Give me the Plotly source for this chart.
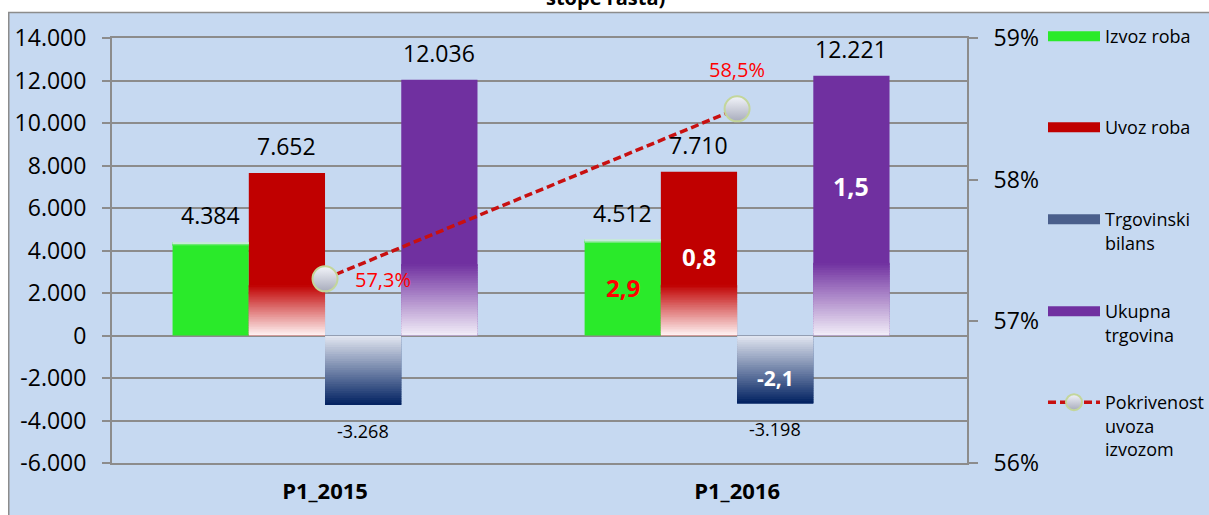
import plotly.graph_objects as go

# ---------------- data ----------------
categories = ["P1_2015", "P1_2016"]
izvoz = [4384, 4512]
uvoz = [7652, 7710]
bilans = [-3268, -3198]
ukupna = [12036, 12221]
pokrivenost = [0.573, 0.585]
rast_2016 = [2.9, 0.8, -2.1, 1.5]          # growth rates shown inside the 2016 bars
series_names = ["Izvoz roba", "Uvoz roba", "Trgovinski<br>bilans", "Ukupna<br>trgovina"]
line_name = "Pokrivenost<br>uvoza<br>izvozom"
y_ticks = [-6000, -4000, -2000, 0, 2000, 4000, 6000, 8000, 10000, 12000, 14000]
y2_ticks = [0.56, 0.57, 0.58, 0.59]
title_fragment = "stope rasta)"

# ---------------- style ----------------
W, H = 1209, 515
L, R, T, B = 112, 967, 38, 463
BG = "#C6D9F1"
GRID = "#8C8C8C"
FONT = "Open Sans"
GREEN, RED, NAVY, PURPLE = "#2AEA2A", "#C00000", "#002060", "#7030A0"
BW = 0.185            # bar width (category spacing = 1)


def px(xw):            # window pixel -> paper x
    return (xw - L) / (R - L)


def py(yw):            # window pixel -> paper y
    return (B - yw) / (B - T)


def fmt_int(v):
    return f"{v:,}".replace(",", ".")


def fmt_pct(v):
    return f"{v * 100:.1f}%".replace(".", ",")


def mix(c1, c2, t):
    a = [int(c1[i:i + 2], 16) for i in (1, 3, 5)]
    b = [int(c2[i:i + 2], 16) for i in (1, 3, 5)]
    return "#" + "".join(f"{round(a[i] + (b[i] - a[i]) * t):02x}" for i in range(3))


xs = list(range(len(categories)))
series_vals = [izvoz, uvoz, bilans, ukupna]
colors = [GREEN, RED, NAVY, PURPLE]
legend_colors = [GREEN, RED, "#4A5F8C", PURPLE]
offsets = [-2 * BW + k * BW for k in range(4)]

fig = go.Figure()

# main solid bars
for k, vals in enumerate(series_vals):
    fig.add_trace(go.Bar(
        x=xs, y=vals, offset=offsets[k], width=BW,
        marker=dict(color=colors[k], line=dict(width=0)),
        name=series_names[k], legend="legend" if k == 0 else f"legend{k + 1}",
        hoverinfo="skip", showlegend=False,
    ))


def gradient(k, frac_lo, frac_hi, c_lo, c_hi, n=30):
    """overlay gradient strips between frac_lo and frac_hi of each bar of series k"""
    bx, bb, bh, bc = [], [], [], []
    for i, v in enumerate(series_vals[k]):
        lo, hi = v * frac_lo, v * frac_hi
        step = (hi - lo) / n
        for j in range(n):
            bx.append(xs[i])
            bb.append(lo + j * step)
            bh.append(step * (1.0 if j == n - 1 else 1.7))   # overlap to hide seams
            bc.append(mix(c_lo, c_hi, (j + 0.5) / n))
    fig.add_trace(go.Bar(
        x=bx, y=bh, base=bb, offset=offsets[k], width=BW,
        marker=dict(color=bc, line=dict(width=0)),
        showlegend=False, hoverinfo="skip",
    ))


gradient(1, 0.0, 0.31, "#FFF4F4", RED)          # import: white bottom -> red
gradient(2, 0.0, 1.0, "#E4E8F2", NAVY)          # balance: light top -> navy bottom
gradient(3, 0.0, 0.28, "#F2EEF8", PURPLE)       # total: white bottom -> purple
gradient(0, 0.965, 1.0, GREEN, "#DCE8F2", n=4)  # thin pale cap on exports

# legend-only entries for the bars (wide swatches)
for k in range(4):
    fig.add_trace(go.Scatter(
        x=[None], y=[None], mode="lines", name=series_names[k],
        legend="legend" if k == 0 else f"legend{k + 1}",
        line=dict(color=legend_colors[k], width=12),
        hoverinfo="skip",
    ))

# coverage line
fig.add_trace(go.Scatter(
    x=xs, y=pokrivenost, yaxis="y2", mode="lines+markers",
    name=line_name, legend="legend5",
    line=dict(color="#C81010", width=3.5, dash="8px,4px"),
    marker=dict(size=25, color="#F2F4FA", gradient=dict(type="vertical", color="#A8ACBC"),
                line=dict(color="#C3D69B", width=2)),
    hoverinfo="skip",
))

annotations = []
# value labels above / below bars
for k, vals in enumerate(series_vals):
    for i, v in enumerate(vals):
        xc = xs[i] + offsets[k] + BW / 2
        if v >= 0:
            annotations.append(dict(x=xc, y=v, xref="x", yref="y", text=fmt_int(v),
                                    showarrow=False, yshift=27,
                                    font=dict(family=FONT, size=23, color="#000000")))
        else:
            annotations.append(dict(x=xc, y=v, xref="x", yref="y", text=fmt_int(v),
                                    showarrow=False, yshift=-26,
                                    font=dict(family=FONT, size=18, color="#000000")))

# growth rates inside 2016 bars
inside_pos = [0.50, 0.482, 0.618, 0.574]
inside_col = ["#FF0000", "#FFFFFF", "#FFFFFF", "#FFFFFF"]
inside_size = [24, 24, 21, 25]
for k, g in enumerate(rast_2016):
    v = series_vals[k][1]
    annotations.append(dict(x=xs[1] + offsets[k] + BW / 2, y=v * inside_pos[k], xref="x", yref="y",
                            text=f"{g:.1f}".replace(".", ","), showarrow=False,
                            font=dict(family=FONT, size=inside_size[k], color=inside_col[k], weight="bold")))

# coverage labels
annotations.append(dict(x=xs[0], y=pokrivenost[0], xref="x", yref="y2", text=fmt_pct(pokrivenost[0]),
                        showarrow=False, xanchor="left", xshift=28, yshift=-1,
                        font=dict(family=FONT, size=20, color="#FF0000")))
annotations.append(dict(x=xs[1], y=pokrivenost[1], xref="x", yref="y2", text=fmt_pct(pokrivenost[1]),
                        showarrow=False, yshift=39,
                        font=dict(family=FONT, size=20, color="#FF0000")))

# title fragment (the top of the chart is cropped in the source)
annotations.append(dict(x=px(605), y=py(-2.5), xref="paper", yref="paper", text=title_fragment,
                        showarrow=False, yanchor="middle",
                        font=dict(family=FONT, size=20, color="#000000", weight="bold")))

shapes = [dict(type="rect", xref="paper", yref="paper", layer="below",
               x0=px(8.75), x1=px(1240), y0=py(560), y1=py(12.5),
               fillcolor=BG, line=dict(color="#8C8C8C", width=1.5))]

leg_common = dict(xanchor="left", yanchor="top", valign="top", bgcolor="rgba(0,0,0,0)",
                  xref="container", yref="container", itemwidth=52,
                  font=dict(family=FONT, size=18, color="#000000"), borderwidth=0)
legend_tops = [18, 109, 201, 293, 384]          # window pixels
leg = {}
for n, ytop in enumerate(legend_tops):
    key = "legend" if n == 0 else f"legend{n + 1}"
    leg[key] = dict(x=1043 / W, y=1 - ytop / H, **leg_common)

axis_common = dict(automargin=False)

fig.update_layout(
    template="none",
    width=W, height=H,
    margin=dict(l=L, r=W - R, t=T, b=H - B, pad=0, autoexpand=False),
    paper_bgcolor="#FFFFFF", plot_bgcolor=BG,
    barmode="overlay",
    separators=",.",
    font=dict(family=FONT, color="#000000"),
    xaxis=dict(range=[-0.517, 1.558], tickvals=xs, ticktext=categories,
               showgrid=False, zeroline=False, ticks="",
               showline=True, mirror=True, linecolor=GRID, linewidth=2,
               tickfont=dict(family=FONT, size=22, weight="bold"), ticklabelstandoff=8,
               **axis_common),
    yaxis=dict(range=[-6000, 14000], tickvals=y_ticks, ticktext=[fmt_int(v) for v in y_ticks],
               showgrid=True, gridcolor=GRID, gridwidth=2, zeroline=False,
               showline=True, linecolor=GRID, linewidth=2,
               ticks="outside", ticklen=8, tickwidth=2, tickcolor=GRID,
               tickfont=dict(family=FONT, size=23), ticklabelstandoff=11,
               **axis_common),
    yaxis2=dict(range=[0.56, 0.59], tickvals=y2_ticks, ticktext=[f"{round(v * 100)}%" for v in y2_ticks],
                overlaying="y", side="right", showgrid=False, zeroline=False,
                showline=True, linecolor=GRID, linewidth=2,
                ticks="outside", ticklen=9, tickwidth=2, tickcolor=GRID,
                tickfont=dict(family=FONT, size=23), ticklabelstandoff=11,
                **axis_common),
    annotations=annotations,
    shapes=shapes,
    **leg,
)

# remove the default page margin so the 1209x515 figure fills the window exactly
fig.write_html("out.html",
               config={"displayModeBar": False},
               post_script="document.body.style.margin='0';document.body.style.overflow='hidden';")
